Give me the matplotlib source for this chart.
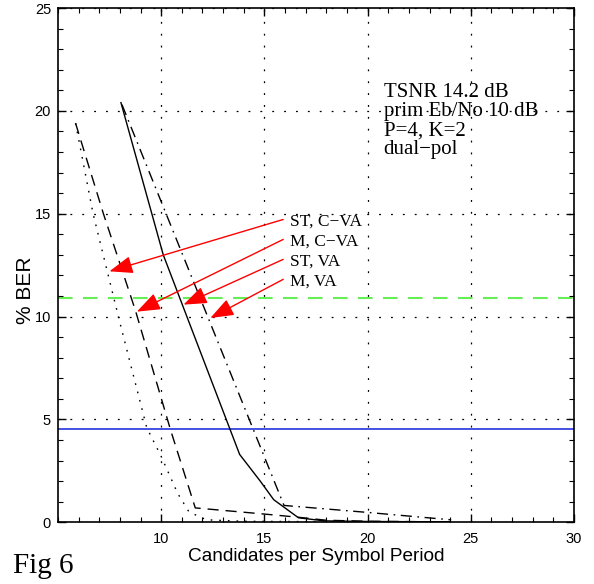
import matplotlib
matplotlib.use("Agg")
import matplotlib.pyplot as plt
from matplotlib.ticker import MultipleLocator

plt.rcParams['font.family'] = ['Liberation Sans', 'DejaVu Sans']

# BER curves vs. number of candidates per symbol period
st_cva_x = [5.85, 6.7, 8.0, 9.3, 10.0, 10.8, 11.35, 12.2, 14.0, 20.0]
st_cva_y = [19.4, 15.0, 9.7, 4.6, 3.2, 1.4, 0.5, 0.12, 0.05, 0.02]

m_cva_x = [5.85, 7.2, 8.75, 10.45, 11.65, 15.0, 16.6, 18.0, 20.0, 24.0]
m_cva_y = [19.4, 15.0, 10.3, 4.5, 0.7, 0.4, 0.25, 0.1, 0.05, 0.02]

st_va_x = [8.05, 10.1, 13.8, 14.8, 15.45, 16.65, 17.9, 20.0, 24.0]
st_va_y = [20.4, 13.0, 3.3, 2.0, 1.1, 0.22, 0.07, 0.04, 0.02]

m_va_x = [8.1, 15.95, 20.0, 24.05]
m_va_y = [20.3, 0.82, 0.48, 0.12]

# reference levels
blue_level = 4.53
green_level = 10.9

# arrow labels: text, start point, arrow tip
labels = ["ST, C\u2212VA", "M, C\u2212VA", "ST, VA", "M, VA"]
label_y = [14.43, 13.46, 12.49, 11.52]
arrow_start_y = [14.72, 13.75, 12.78, 11.81]
arrow_tip_x = [7.49, 8.82, 11.08, 12.38]
arrow_tip_y = [12.20, 10.24, 10.58, 9.93]

info_lines = ["TSNR 14.2 dB", "prim Eb/No 10 dB", "P=4, K=2", "dual\u2212pol"]
info_y = [20.65, 19.73, 18.80, 17.88]

fig = plt.figure(figsize=(5.94, 5.84), dpi=100)
ax = fig.add_axes([58 / 594, 1 - 522.3 / 584, 516 / 594, 514.3 / 584])

ax.set_xlim(5, 30)
ax.set_ylim(0, 25)
ax.xaxis.set_major_locator(MultipleLocator(5))
ax.xaxis.set_minor_locator(MultipleLocator(1))
ax.yaxis.set_major_locator(MultipleLocator(5))
ax.yaxis.set_minor_locator(MultipleLocator(1))
ax.tick_params(which='both', direction='in', top=True, right=True, labelsize=10.5)
ax.tick_params(which='major', length=6, width=1)
ax.tick_params(which='minor', length=3.5, width=0.8)
ax.tick_params(axis='x', pad=7)
ax.tick_params(axis='y', pad=5)
for sp in ax.spines.values():
    sp.set_linewidth(1.2)

ax.grid(True, which='major', color='black', linestyle=(0, (1.5, 8)), linewidth=0.9)

ax.axhline(blue_level, color='#2233dd', lw=1.2, zorder=1)
ax.axhline(green_level, color='#66ee55', lw=1.5, linestyle=(0, (7, 5)), zorder=1)

ax.plot(st_cva_x, st_cva_y, color='black', lw=1, linestyle=(0, (1.2, 5)))
ax.plot(m_cva_x, m_cva_y, color='black', lw=1, linestyle=(0, (8, 5)))
ax.plot(st_va_x, st_va_y, color='black', lw=1, linestyle='-')
ax.plot(m_va_x, m_va_y, color='black', lw=1, linestyle=(0, (8, 4, 1.2, 4)))

for txt, ly, sy, tx, ty in zip(labels, label_y, arrow_start_y, arrow_tip_x, arrow_tip_y):
    ax.annotate('', xy=(tx, ty), xytext=(15.91, sy),
                arrowprops=dict(arrowstyle='-|>,head_length=0.8,head_width=0.3',
                                mutation_scale=18, color='red', lw=1,
                                shrinkA=0, shrinkB=0))
    ax.text(16.26, ly, txt, family='Liberation Serif', fontsize=12.5, va='baseline')

for txt, y in zip(info_lines, info_y):
    ax.text(20.78, y, txt, family='Liberation Serif', fontsize=15, va='baseline')

# the 5 label sits under the figure caption
ax.set_xticks([10, 15, 20, 25, 30])
ax.set_xlabel("Candidates per Symbol Period", fontsize=13.7)
ax.xaxis.set_label_coords(0.5, -0.05)
ax.xaxis.label.set_va('top')
ax.set_ylabel("% BER", fontsize=15)
ax.yaxis.set_label_coords(-0.044, 0.452)

fig.text(13 / 594, 1 - 573 / 584, "Fig 6", family='Liberation Serif', fontsize=21, va='baseline')

fig.savefig("out.png", dpi=100)
